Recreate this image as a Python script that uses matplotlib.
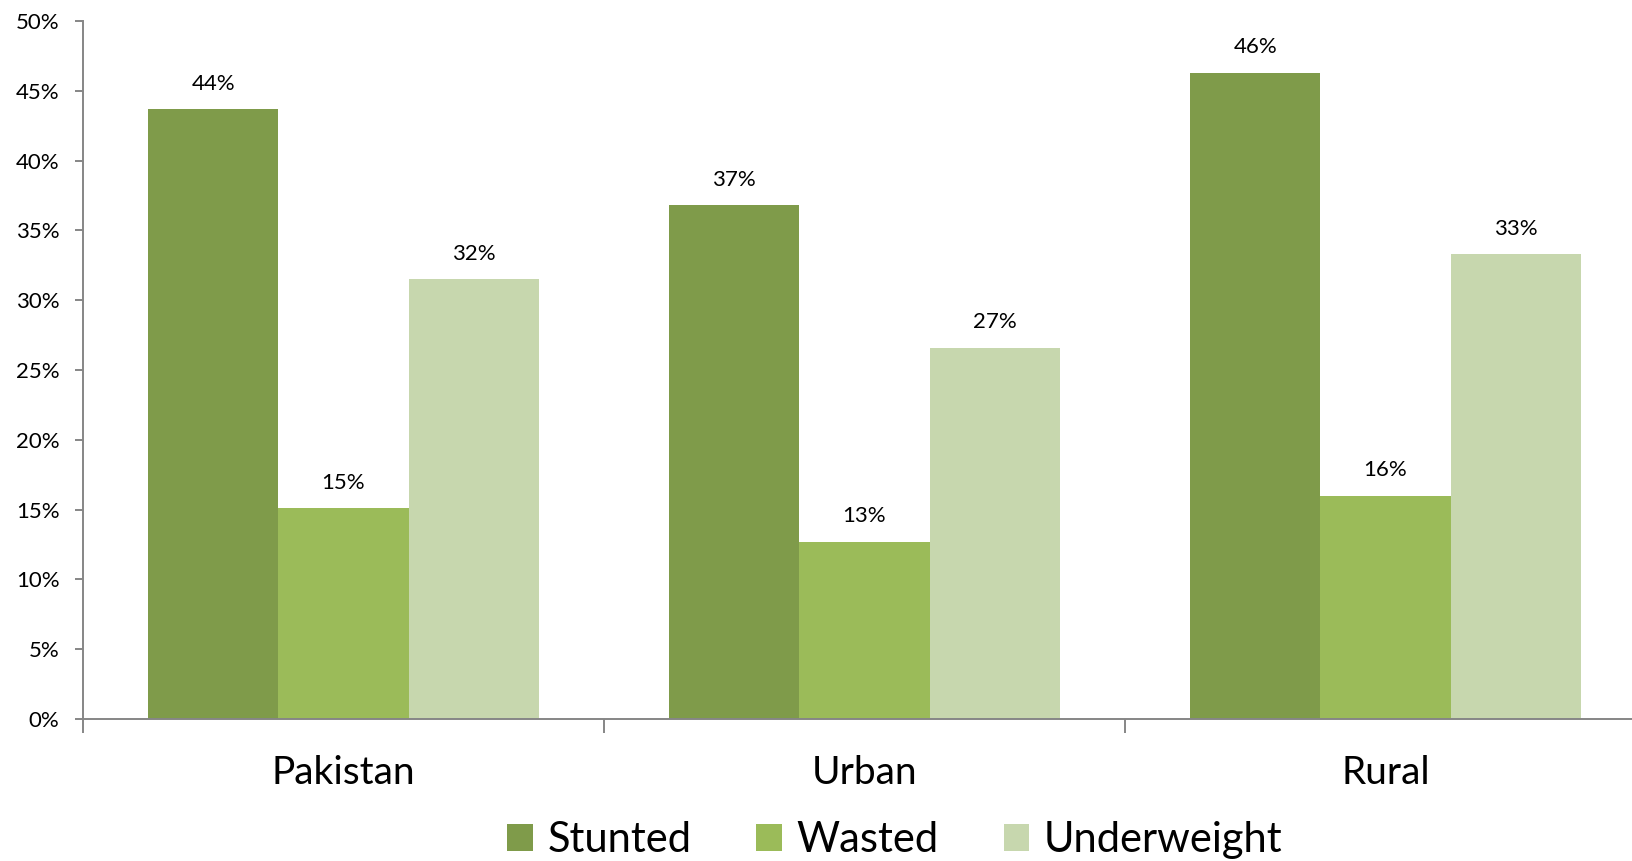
import numpy as np
import matplotlib
matplotlib.use("Agg")
import matplotlib.pyplot as plt
from matplotlib.ticker import FixedLocator, PercentFormatter

plt.rcParams['font.family'] = ['Lato', 'DejaVu Sans']

# malnutrition prevalence by area (%)
areas = ['Pakistan', 'Urban', 'Rural']
series_names = ['Stunted', 'Wasted', 'Underweight']
stunted = [43.7, 36.8, 46.3]
wasted = [15.1, 12.7, 16.0]
underweight = [31.5, 26.6, 33.3]
colors = ['#7F9B4A', '#9BBB59', '#C7D7AE']
yticks = [0, 5, 10, 15, 20, 25, 30, 35, 40, 45, 50]

fig = plt.figure(figsize=(16.33, 8.61), dpi=100)
ax = fig.add_axes([83 / 1633, 1 - 719 / 861, (1646 - 83) / 1633, (719 - 21) / 861])

x = np.arange(len(areas))
w = 0.25
axis_gray = '#868686'
for i, (vals, name, c) in enumerate(zip([stunted, wasted, underweight], series_names, colors)):
    pos = x + (i - 1) * w
    bars = ax.bar(pos, vals, width=w, color=c, label=name, edgecolor='none', zorder=2)
    for b, v in zip(bars, vals):
        ax.annotate('%d%%' % round(v), (b.get_x() + b.get_width() / 2, v),
                    xytext=(0, 14), textcoords='offset points',
                    ha='center', va='baseline', fontsize=16, color='black')

ax.set_xlim(-0.5, 2.5)
ax.set_ylim(0, 50)
ax.yaxis.set_major_locator(FixedLocator(yticks))
ax.yaxis.set_major_formatter(PercentFormatter(decimals=0))

# group separators as major ticks, area names on minor ticks
ax.xaxis.set_major_locator(FixedLocator([-0.5, 0.5, 1.5, 2.5]))
ax.xaxis.set_minor_locator(FixedLocator(x))
ax.set_xticklabels([], minor=False)
ax.set_xticklabels(areas, minor=True, fontsize=28)
ax.tick_params(axis='x', which='major', length=10, width=1.4, color=axis_gray)
ax.tick_params(axis='x', which='minor', length=0, pad=26)
ax.tick_params(axis='y', length=6, width=1.4, color=axis_gray, labelsize=16, pad=11)

for s in ['top', 'right']:
    ax.spines[s].set_visible(False)
for s in ['left', 'bottom']:
    ax.spines[s].set_color(axis_gray)
    ax.spines[s].set_linewidth(1.4)

leg = fig.legend(loc='center', bbox_to_anchor=(895 / 1633, 1 - 840 / 861), ncol=3,
                 frameon=False, fontsize=30, handlelength=0.62, handleheight=0.62,
                 handletextpad=0.35, columnspacing=1.55)

fig.savefig('out.png', dpi=100)
